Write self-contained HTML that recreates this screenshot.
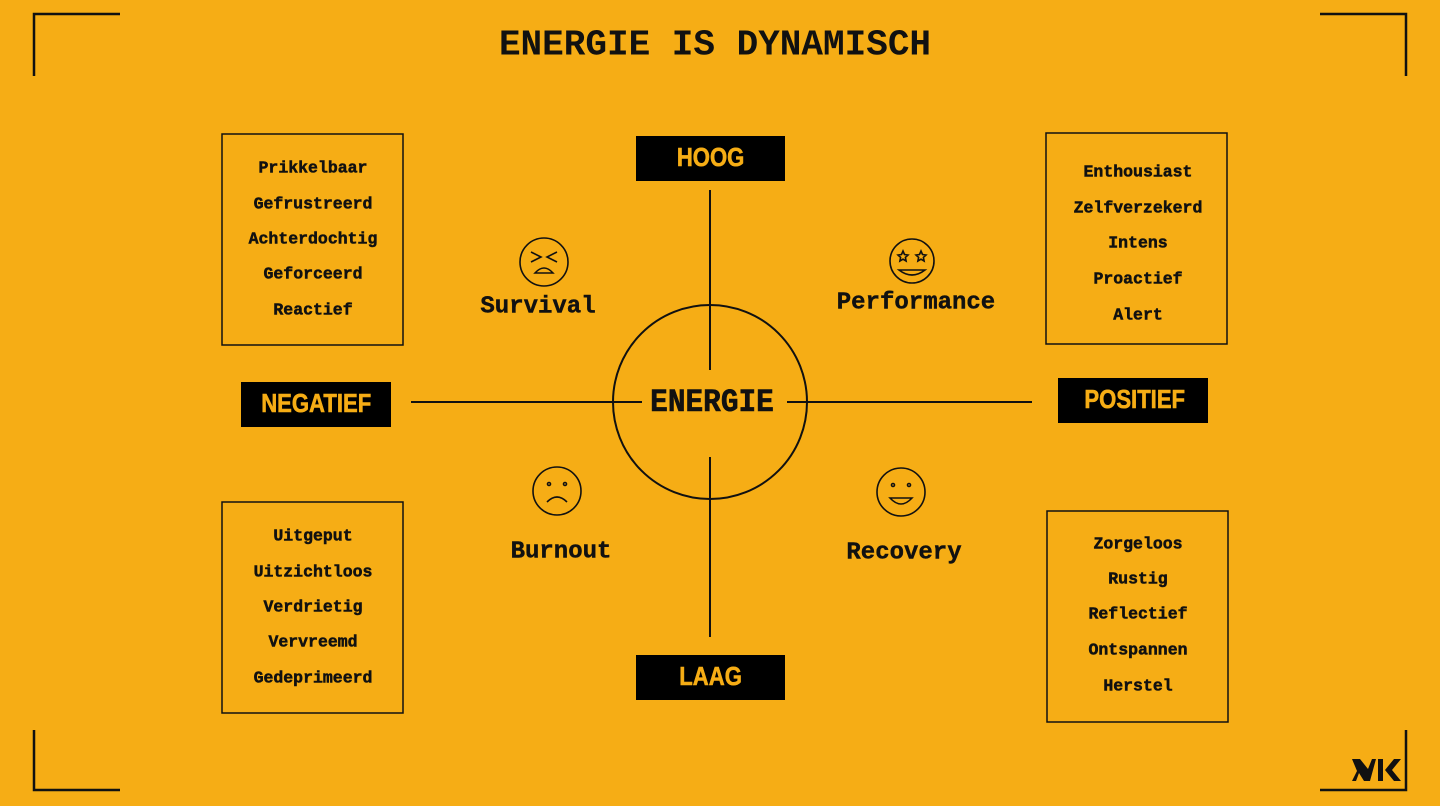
<!DOCTYPE html>
<html><head><meta charset="utf-8"><style>
body{margin:0;width:1440px;height:806px;background:#F6AD15;overflow:hidden;position:relative;font-family:"Liberation Mono",monospace;}
svg{position:absolute;left:0;top:0}
</style></head><body>
<svg width="1440" height="806" viewBox="0 0 1440 806">
<g stroke="#111" stroke-width="2.5" fill="none">
<path d="M34 76V14H120M1320 14H1406V76M34 730V790H120M1320 790H1406V730"/>
</g>
<g stroke="#111" stroke-width="2" fill="none">
<line x1="710" y1="190" x2="710" y2="370"/>
<line x1="710" y1="457" x2="710" y2="637"/>
<line x1="411" y1="402" x2="642" y2="402"/>
<line x1="787" y1="402" x2="1032" y2="402"/>
<circle cx="710" cy="402" r="97"/>
<rect x="222" y="134" width="181" height="211" stroke-width="1.5"/>
<rect x="1046" y="133" width="181" height="211" stroke-width="1.5"/>
<rect x="222" y="502" width="181" height="211" stroke-width="1.5"/>
<rect x="1047" y="511" width="181" height="211" stroke-width="1.5"/>
</g>
<g stroke="#111" stroke-width="1.6" fill="none">
<circle cx="544" cy="262" r="24"/>
<path d="M531 252l10 5-10 5M557 252l-10 5 10 5M535 273q9-10 18 0z"/>
<circle cx="912" cy="261" r="22"/>
<path d="M899 270q13 10 26 0z"/>
<path d="M903 251l1.5 3.5 3.5.5-2.6 2.4.7 3.6-3.1-1.8-3.1 1.8.7-3.6-2.6-2.4 3.5-.5z"/>
<path d="M921 251l1.5 3.5 3.5.5-2.6 2.4.7 3.6-3.1-1.8-3.1 1.8.7-3.6-2.6-2.4 3.5-.5z"/>
<circle cx="557" cy="491" r="24"/>
<circle cx="549" cy="484" r="1.5"/><circle cx="565" cy="484" r="1.5"/>
<path d="M547 502q10-10 20 0"/>
<circle cx="901" cy="492" r="24"/>
<circle cx="893" cy="485" r="1.5"/><circle cx="909" cy="485" r="1.5"/>
<path d="M890 498q11 12 22 0z"/>
</g>
<rect x="636" y="136" width="149" height="45" fill="#000"/>
<rect x="636" y="655" width="149" height="45" fill="#000"/>
<rect x="241" y="382" width="150" height="45" fill="#000"/>
<rect x="1058" y="378" width="150" height="45" fill="#000"/>
<g font-family="Liberation Sans, sans-serif" font-weight="bold" font-size="26" fill="#F6AD15" stroke="#F6AD15" stroke-width="0.6" text-anchor="middle" dominant-baseline="central" transform="scale(0.85,1)">
<text x="836" y="158">HOOG</text>
<text x="836" y="677">LAAG</text>
<text x="372" y="404">NEGATIEF</text>
<text x="1335" y="400">POSITIEF</text>
</g>
<g font-family="Liberation Mono, monospace" font-weight="bold" fill="#111" text-anchor="middle" dominant-baseline="central">
<text x="715" y="45" font-size="36">ENERGIE IS DYNAMISCH</text>
<text x="712" y="403" font-size="32" stroke="#111" stroke-width="0.6" transform="translate(712 403) scale(0.92 1) translate(-712 -403)">ENERGIE</text>
<g font-size="24" stroke="#111" stroke-width="0.4">
<text x="538" y="307">Survival</text>
<text x="916" y="303">Performance</text>
<text x="561" y="552">Burnout</text>
<text x="904" y="553">Recovery</text>
</g>
<g font-size="16.5" stroke="#111" stroke-width="0.5">
<text x="313" y="168">Prikkelbaar</text><text x="313" y="204">Gefrustreerd</text><text x="313" y="239">Achterdochtig</text><text x="313" y="274">Geforceerd</text><text x="313" y="310">Reactief</text>
<text x="1138" y="172">Enthousiast</text><text x="1138" y="208">Zelfverzekerd</text><text x="1138" y="243">Intens</text><text x="1138" y="279">Proactief</text><text x="1138" y="315">Alert</text>
<text x="313" y="536">Uitgeput</text><text x="313" y="572">Uitzichtloos</text><text x="313" y="607">Verdrietig</text><text x="313" y="642">Vervreemd</text><text x="313" y="678">Gedeprimeerd</text>
<text x="1138" y="544">Zorgeloos</text><text x="1138" y="579">Rustig</text><text x="1138" y="614">Reflectief</text><text x="1138" y="650">Ontspannen</text><text x="1138" y="686">Herstel</text>
</g>
</g>
<g fill="#111">
<path d="M1352 759h8l8 10 4-10h4l-6 22h-6l-5-8-3 8h-4l5-10z"/>
<path d="M1378 759h5v22h-5zM1385 770l9-11h7l-9 11 9 11h-7z"/>
</g>
</svg>
</body></html>
